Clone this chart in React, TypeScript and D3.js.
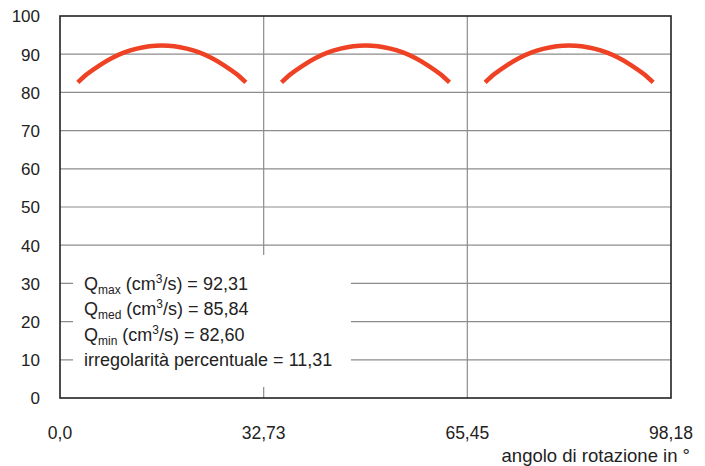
import React from 'react'
import * as d3 from 'd3'

// y axis ticks (portata, cm3/s)
const yTicks = [0, 10, 20, 30, 40, 50, 60, 70, 80, 90, 100]
// x axis ticks (angolo di rotazione)
const xTicks = [0, 32.73, 65.45, 98.18]
const xTickLabels = ['0,0', '32,73', '65,45', '98,18']
const xTitle = 'angolo di rotazione in °'

// one arc per tooth pitch
const periodStarts = [0, 32.73, 65.45]
const arcAngles = [2.86, 4.36, 6.36, 8.36, 10.36, 12.36, 14.36, 16.36, 18.36, 20.36, 22.36, 24.36, 26.36, 28.36, 29.86]
const arcValues = [82.6, 84.8, 87.1, 89.0, 90.45, 91.45, 92.1, 92.31, 92.1, 91.45, 90.45, 89.0, 87.1, 84.8, 82.6]

const statNames = ['max', 'med', 'min']
const statValues = ['92,31', '85,84', '82,60']
const irregularity = '11,31'

const W = 705
const H = 466
const margin = { top: 16, right: 34, bottom: 68, left: 60 }
const font = '"Liberation Sans", Arial, Helvetica, sans-serif'

const App = () => {
  const x = d3.scaleLinear().domain([0, 98.18]).range([margin.left, W - margin.right])
  const y = d3.scaleLinear().domain([0, 100]).range([H - margin.bottom, margin.top])

  const line = d3
    .line<[number, number]>()
    .x((d) => x(d[0]))
    .y((d) => y(d[1]))
    .curve(d3.curveCatmullRom)

  const arcs = periodStarts.map((p) =>
    arcAngles.map((a, i) => [p + a, arcValues[i]] as [number, number])
  )

  // legend box (white panel over grid)
  const box = { x: 73, y: 255, w: 278, h: 132 }
  const rowY = [289.5, 315, 340.5, 366]

  return (
    <svg
      width={W}
      height={H}
      style={{ position: 'absolute', left: 0, top: 0, background: '#fff' }}
      fontFamily={font}
    >
      {/* horizontal grid */}
      {yTicks
        .filter((t) => t > 0 && t < 100)
        .map((t) => (
          <line key={'h' + t} x1={x(0)} x2={x(98.18)} y1={y(t)} y2={y(t)} stroke='#8c8c8c' strokeWidth={1.2} />
        ))}
      {/* vertical grid */}
      {xTicks.slice(1, 3).map((t) => (
        <line key={'v' + t} x1={x(t)} x2={x(t)} y1={y(100)} y2={y(0)} stroke='#8c8c8c' strokeWidth={1.2} />
      ))}

      <rect x={box.x} y={box.y} width={box.w} height={box.h} fill='#fff' />

      {/* frame */}
      <rect
        x={x(0)}
        y={y(100)}
        width={x(98.18) - x(0)}
        height={y(0) - y(100)}
        fill='none'
        stroke='#222'
        strokeWidth={1.6}
      />

      {arcs.map((a, i) => (
        <path key={i} d={line(a) || ''} fill='none' stroke='#ef4123' strokeWidth={4.5} />
      ))}

      {/* y labels */}
      {yTicks.map((t) => (
        <text key={'yl' + t} x={40} y={y(t)} dy='0.38em' textAnchor='end' fontSize={17} fill='#222'>
          {t}
        </text>
      ))}
      {/* x labels */}
      {xTicks.map((t, i) => (
        <text key={'xl' + t} x={x(t)} y={439} textAnchor='middle' fontSize={17.5} fill='#222'>
          {xTickLabels[i]}
        </text>
      ))}
      <text x={690} y={462} textAnchor='end' fontSize={18.5} fill='#222'>
        {xTitle}
      </text>

      {/* stats */}
      {statNames.map((n, i) => (
        <text key={n} x={84} y={rowY[i]} fontSize={18} fill='#222'>
          Q
          <tspan fontSize={12} dy={4}>{n}</tspan>
          <tspan dy={-4}> (cm</tspan>
          <tspan fontSize={12} dy={-7}>3</tspan>
          <tspan dy={7}>/s) = {statValues[i]}</tspan>
        </text>
      ))}
      <text x={84} y={rowY[3]} fontSize={18} fill='#222'>
        irregolarità percentuale = {irregularity}
      </text>
    </svg>
  )
}

export default App
